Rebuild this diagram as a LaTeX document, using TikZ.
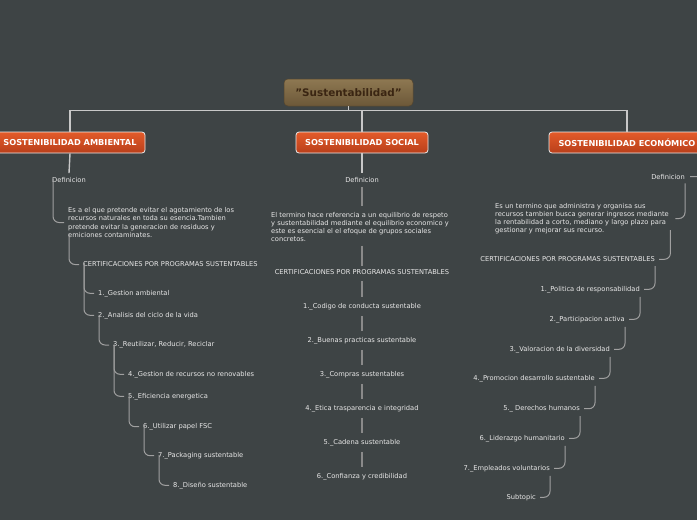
\documentclass[tikz,border=0pt]{standalone}
\usepackage{fontspec}
\setmainfont{DejaVu Sans}
\definecolor{bgc}{HTML}{3E4445}
\definecolor{txt}{HTML}{E8E8E8}
\definecolor{subc}{HTML}{A0A0A0}
\definecolor{socc}{HTML}{8A8A8A}
\definecolor{topc}{HTML}{C8C8C8}
\definecolor{boxtop}{HTML}{E35B2A}
\definecolor{boxbot}{HTML}{B93F1A}
\definecolor{roottop}{HTML}{8E7852}
\definecolor{rootbot}{HTML}{6C5838}
\definecolor{roottxt}{HTML}{3A2512}
\tikzset{
  tnode/.style={inner sep=0pt, text=txt, font=\fontsize{6.7}{8.1}\selectfont},
  tblock/.style={tnode, align=left},
  mainbox/.style={rounded corners=3pt, draw=white!85!gray, line width=0.8pt,
    top color=boxtop, bottom color=boxbot, text=white,
    font=\bfseries\fontsize{8.2}{9}\selectfont, minimum height=21pt, inner sep=0pt},
  rootbox/.style={rounded corners=4pt, draw=rootbot!80!black, line width=0.5pt,
    top color=roottop, bottom color=rootbot, text=roottxt,
    font=\bfseries\fontsize{10.4}{12}\selectfont, minimum width=129pt, minimum height=27pt, inner sep=0pt},
  topline/.style={draw=topc, line width=1.4pt},
  subline/.style={draw=subc, line width=1pt, rounded corners=6pt},
  socline/.style={draw=socc, line width=1.8pt},
}
\begin{document}
\begin{tikzpicture}[x=1pt,y=-1pt]
\fill[bgc] (0,0) rectangle (697,520);
\useasboundingbox (0,0) rectangle (697,520);
\clip (0,0) rectangle (697,520);

% root and main boxes
\node[rootbox] (root) at (348.5,92.5) {"Sustentabilidad"};
\node[mainbox, minimum width=150pt] (amb) at (70,142.5) {SOSTENIBILIDAD AMBIENTAL};
\node[mainbox, minimum width=132pt] (soc) at (362,142.5) {SOSTENIBILIDAD SOCIAL};
\node[mainbox, minimum width=156pt] (eco) at (627,142.5) {SOSTENIBILIDAD ECONÓMICO};

\coordinate (hub) at (348.5,110.5);
\draw[topline] (root.south) -- (hub);
\draw[topline] (hub) -| (amb.north);
\draw[topline] (hub) -| (soc.north);
\draw[topline] (hub) -| (eco.north);

% ---------- Ambiental ----------
\node[tnode] (def1) at (69,180) {Definicion};
\node[tblock, anchor=west] (desc1) at (68,222.5) {Es a el que pretende evitar el agotamiento de los\\recursos naturales en toda su esencia.Tambien\\pretende evitar la generacion de residuos y\\emiciones contaminates.};
\node[tnode, anchor=west] (cert1) at (83,264.5) {CERTIFICACIONES POR PROGRAMAS SUSTENTABLES};
\node[tnode, anchor=west] (a1) at (98,293.3) {1.\_Gestion ambiental};
\node[tnode, anchor=west] (a2) at (98,315.3) {2.\_Analisis del ciclo de la vida};
\node[tnode, anchor=west] (a3) at (113,345) {3.\_Reutilizar, Reducir, Reciclar};
\node[tnode, anchor=west] (a4) at (128,374.3) {4.\_Gestion de recursos no renovables};
\node[tnode, anchor=west] (a5) at (128,396.3) {5.\_Eficiencia energetica};
\node[tnode, anchor=west] (a6) at (143,426.7) {6.\_Utilizar papel FSC};
\node[tnode, anchor=west] (a7) at (158,455.7) {7.\_Packaging sustentable};
\node[tnode, anchor=west] (a8) at (173,485.3) {8.\_Diseño sustentable};

\draw[topline] (amb.south) -- ([yshift=4]def1.north);
\draw[subline] ([shift={(1,-4)}]def1.south west) |- ([xshift=-4]desc1.west);
\draw[subline] ([shift={(1,-4)}]desc1.south west) |- ([xshift=-4]cert1.west);
\draw[subline] ([shift={(1,-4)}]cert1.south west) |- ([xshift=-4]a1.west);
\draw[subline] ([shift={(1,-4)}]cert1.south west) |- ([xshift=-4]a2.west);
\draw[subline] ([shift={(1,-4)}]a2.south west) |- ([xshift=-4]a3.west);
\draw[subline] ([shift={(1,-4)}]a3.south west) |- ([xshift=-4]a4.west);
\draw[subline] ([shift={(1,-4)}]a3.south west) |- ([xshift=-4]a5.west);
\draw[subline] ([shift={(1,-4)}]a5.south west) |- ([xshift=-4]a6.west);
\draw[subline] ([shift={(1,-4)}]a6.south west) |- ([xshift=-4]a7.west);
\draw[subline] ([shift={(1,-4)}]a7.south west) |- ([xshift=-4]a8.west);

% ---------- Social ----------
\node[tnode] (def2) at (362,180) {Definicion};
\node[tblock] (desc2) at (360,226.7) {El termino hace referencia a un equilibrio de respeto\\y sustentabilidad mediante el equilibrio economico y\\este es esencial el el efoque de grupos sociales\\concretos.};
\node[tnode] (cert2) at (362,272.3) {CERTIFICACIONES POR PROGRAMAS SUSTENTABLES};
\node[tnode] (s1) at (362,306.7) {1.\_Codigo de conducta sustentable};
\node[tnode] (s2) at (362,340.3) {2.\_Buenas practicas sustentable};
\node[tnode] (s3) at (362,374.3) {3.\_Compras sustentables};
\node[tnode] (s4) at (362,408.3) {4.\_Etica trasparencia e integridad};
\node[tnode] (s5) at (362,442.3) {5.\_Cadena sustentable};
\node[tnode] (s6) at (362,476.3) {6.\_Confianza y credibilidad};

\draw[topline] (soc.south) -- ([yshift=4]def2.north);
\draw[socline] ([yshift=-4]def2.south) -- ([yshift=6]def2.south |- desc2.north);
\draw[socline] ([yshift=-4]cert2.north |- desc2.south) -- ([yshift=4]cert2.north);
\draw[socline] ([yshift=-6]cert2.south) -- ([yshift=6]s1.north);
\draw[socline] ([yshift=-6]s1.south) -- ([yshift=6]s2.north);
\draw[socline] ([yshift=-6]s2.south) -- ([yshift=6]s3.north);
\draw[socline] ([yshift=-6]s3.south) -- ([yshift=6]s4.north);
\draw[socline] ([yshift=-6]s4.south) -- ([yshift=6]s5.north);
\draw[socline] ([yshift=-6]s5.south) -- ([yshift=6]s6.north);

% ---------- Economico ----------
\node[tnode, anchor=east] (def3) at (685,176.7) {Definicion};
\node[tblock, anchor=west, text width=177pt] (desc3) at (495,218.5) {Es un termino que administra y organisa sus\\recursos tambien busca generar ingresos mediante\\la rentabilidad a corto, mediano y largo plazo para\\gestionar y mejorar sus recurso.};
\node[tnode, anchor=east] (cert3) at (655,259.3) {CERTIFICACIONES POR PROGRAMAS SUSTENTABLES};
\node[tnode, anchor=east] (e1) at (640,289.3) {1.\_Politica de responsabilidad};
\node[tnode, anchor=east] (e2) at (625,319.3) {2.\_Participacion activa};
\node[tnode, anchor=east] (e3) at (610,349.3) {3.\_Valoracion de la diversidad};
\node[tnode, anchor=east] (e4) at (595,378.3) {4.\_Promocion desarrollo sustentable};
\node[tnode, anchor=east] (e5) at (580,408.7) {5.\_ Derechos humanos};
\node[tnode, anchor=east] (e6) at (565,438.3) {6.\_Liderazgo humanitario};
\node[tnode, anchor=east] (e7) at (550,468.3) {7.\_Empleados voluntarios};
\node[tnode, anchor=east] (e8) at (536,497.3) {Subtopic};

\draw[subline] ([xshift=-3]eco.south east) |- ([xshift=5]def3.east);
\draw[subline] ([yshift=-4]def3.south east) |- ([xshift=3]desc3.east);
\draw[subline] ([shift={(-2,-4)}]desc3.south east) |- ([xshift=4]cert3.east);
\draw[subline] ([yshift=-4]cert3.south east) |- ([xshift=4]e1.east);
\draw[subline] ([yshift=-4]e1.south east) |- ([xshift=4]e2.east);
\draw[subline] ([yshift=-4]e2.south east) |- ([xshift=4]e3.east);
\draw[subline] ([yshift=-4]e3.south east) |- ([xshift=4]e4.east);
\draw[subline] ([yshift=-4]e4.south east) |- ([xshift=4]e5.east);
\draw[subline] ([yshift=-4]e5.south east) |- ([xshift=4]e6.east);
\draw[subline] ([yshift=-4]e6.south east) |- ([xshift=4]e7.east);
\draw[subline] ([yshift=-4]e7.south east) |- ([xshift=4]e8.east);
\end{tikzpicture}
\end{document}
